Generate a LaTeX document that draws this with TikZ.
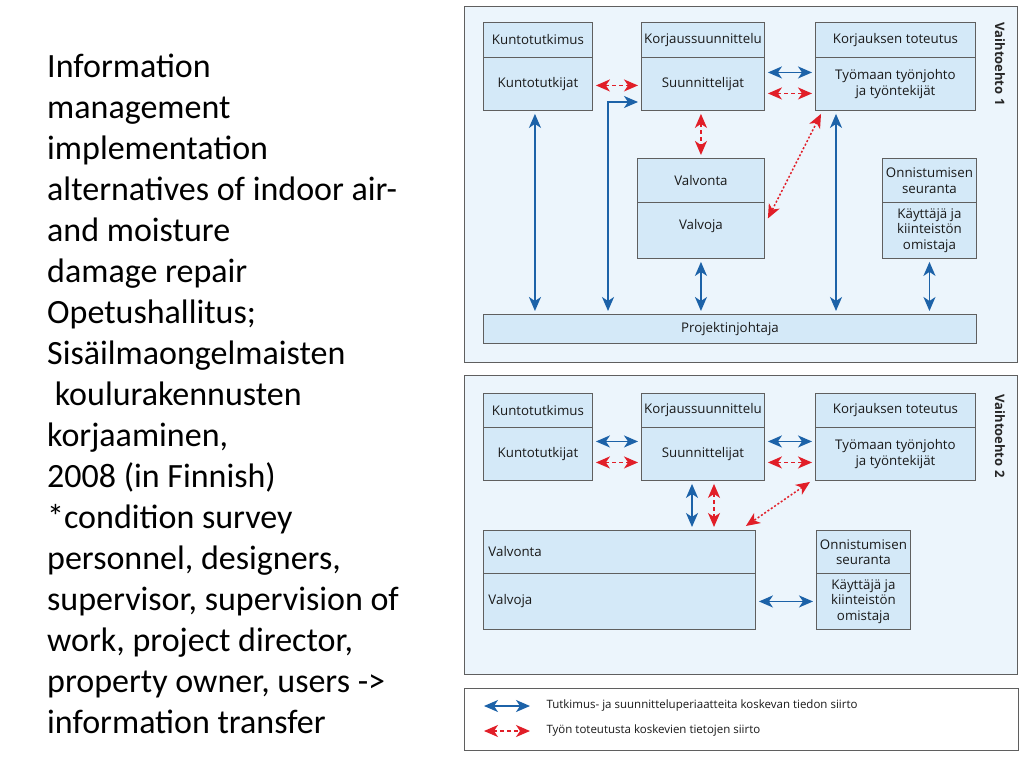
\documentclass[tikz,border=0pt]{standalone}
\usepackage{fontspec}
\setmainfont{Carlito}
\newfontfamily\diafont{Open Sans}
\usetikzlibrary{arrows.meta}
\definecolor{framebg}{RGB}{236,245,252}
\definecolor{boxbg}{RGB}{212,233,248}
\definecolor{bordergray}{RGB}{95,95,95}
\definecolor{arrblue}{RGB}{28,98,168}
\definecolor{arrred}{RGB}{225,30,40}
\tikzset{
  bigtip/.tip={Stealth[length=14pt,width=12pt,inset=4pt]},
  panel/.style={draw=bordergray, line width=0.9pt, fill=framebg},
  boxpart/.style={draw=bordergray, line width=0.9pt, fill=boxbg, anchor=north west, inner sep=0pt, align=center, font=\diafont\fontsize{13.3}{15.5}\selectfont, text=black!90},
  bluearr/.style={draw=arrblue, line width=1.7pt, arrows={bigtip-bigtip}, shorten <=3pt, shorten >=3pt},
  redarr/.style={draw=arrred, line width=1.5pt, dash pattern=on 4pt off 3pt, arrows={bigtip-bigtip}, shorten <=3pt, shorten >=3pt},
  reddot/.style={draw=arrred, line width=1.5pt, dash pattern=on 2pt off 2pt, arrows={bigtip-bigtip}},
  vlabel/.style={rotate=-90, font=\diafont\bfseries\fontsize{13}{15}\selectfont, text=black!85},
  legtext/.style={anchor=west, font=\diafont\fontsize{11.5}{14}\selectfont, text=black!90},
}
\begin{document}
\begin{tikzpicture}[x=1pt,y=-1pt]
\useasboundingbox (0,0) rectangle (1024,768);
\fill[white] (0,0) rectangle (1024,768);

% left text
\node[anchor=north west, align=left, inner sep=0pt, font=\fontsize{34}{41}\selectfont] (lefttext) at (47,54) {Information\\
management\\
implementation\\
alternatives of indoor air-\\
and moisture\\
damage repair\\
Opetushallitus;\\
Sisäilmaongelmaisten\\
\ koulurakennusten\\
korjaaminen,\\
2008 (in Finnish)\\
*condition survey\\
personnel, designers,\\
supervisor, supervision of\\
work, project director,\\
property owner, users ->\\
information transfer};

% ===== panel 1 =====
\draw[panel] (464,6) rectangle (1017,362);
\node[vlabel] (v1) at (1000,64) {Vaihtoehto 1};

\node[boxpart, minimum width=109pt, minimum height=35pt] (kt1h) at (483,22) {Kuntotutkimus};
\node[boxpart, minimum width=109pt, minimum height=53pt] (kt1b) at (483,57) {Kuntotutkijat};
\node[boxpart, minimum width=123pt, minimum height=35pt] (ks1h) at (641,22) {Korjaussuunnittelu};
\node[boxpart, minimum width=123pt, minimum height=53pt] (ks1b) at (641,57) {Suunnittelijat};
\node[boxpart, minimum width=160pt, minimum height=35pt] (kj1h) at (815,22) {Korjauksen toteutus};
\node[boxpart, minimum width=160pt, minimum height=53pt] (kj1b) at (815,57) {Työmaan työnjohto\\ja työntekijät};
\node[boxpart, minimum width=127pt, minimum height=44pt] (va1h) at (637,158) {Valvonta};
\node[boxpart, minimum width=127pt, minimum height=56pt] (va1b) at (637,202) {\raisebox{4pt}[\height][\depth]{Valvoja}};
\node[boxpart, minimum width=94pt, minimum height=44pt] (on1h) at (882,158) {Onnistumisen\\seuranta};
\node[boxpart, minimum width=94pt, minimum height=56pt] (on1b) at (882,202) {Käyttäjä ja\\kiinteistön\\omistaja};
\node[boxpart, minimum width=493pt, minimum height=29pt] (pj1) at (483,314) {Projektinjohtaja};

\draw[redarr] ([yshift=-1.5pt]kt1b.east) -- ([yshift=-1.5pt]ks1b.west);
\coordinate (bend1) at (608,102);
\draw[bluearr] (bend1 |- pj1.north) -- (bend1) -- (ks1b.west |- bend1);
\draw[bluearr] ([xshift=-3pt]kt1b.south) -- ([xshift=-3pt]kt1b.south |- pj1.north);
\draw[bluearr] ([yshift=11.5pt]ks1b.east) -- ([yshift=11.5pt]kj1b.west);
\draw[redarr] ([yshift=-9.5pt]ks1b.east) -- ([yshift=-9.5pt]kj1b.west);
\draw[redarr] (ks1b.south -| va1h.north) -- (va1h.north);
\draw[reddot] ([xshift=6pt,yshift=-3pt]kj1b.south west) -- ([xshift=3pt,yshift=12pt]va1b.east);
\draw[bluearr] ([xshift=21pt]kj1b.south west) -- ([xshift=21pt]kj1b.south west |- pj1.north);
\draw[bluearr] (va1b.south) -- (va1b.south |- pj1.north);
\draw[bluearr] (on1b.south) -- (on1b.south |- pj1.north);

% ===== panel 2 =====
\draw[panel] (464,375) rectangle (1017,674);
\node[vlabel] (v2) at (1000,436) {Vaihtoehto 2};

\node[boxpart, minimum width=109pt, minimum height=34pt] (kt2h) at (483,393) {Kuntotutkimus};
\node[boxpart, minimum width=109pt, minimum height=53pt] (kt2b) at (483,427) {Kuntotutkijat};
\node[boxpart, minimum width=123pt, minimum height=34pt] (ks2h) at (641,393) {Korjaussuunnittelu};
\node[boxpart, minimum width=123pt, minimum height=53pt] (ks2b) at (641,427) {Suunnittelijat};
\node[boxpart, minimum width=160pt, minimum height=34pt] (kj2h) at (815,393) {Korjauksen toteutus};
\node[boxpart, minimum width=160pt, minimum height=53pt] (kj2b) at (815,427) {Työmaan työnjohto\\ja työntekijät};
\node[boxpart, minimum width=272pt, minimum height=43pt, text width=262pt, align=left] (va2h) at (483,530) {Valvonta};
\node[boxpart, minimum width=272pt, minimum height=56pt, text width=262pt, align=left] (va2b) at (483,573) {Valvoja};
\node[boxpart, minimum width=94pt, minimum height=43pt] (on2h) at (816,530) {Onnistumisen\\seuranta};
\node[boxpart, minimum width=94pt, minimum height=56pt] (on2b) at (816,573) {Käyttäjä ja\\kiinteistön\\omistaja};

\draw[bluearr] ([yshift=12.5pt]kt2b.east) -- ([yshift=12.5pt]ks2b.west);
\draw[redarr] ([yshift=-8.5pt]kt2b.east) -- ([yshift=-8.5pt]ks2b.west);
\draw[bluearr] ([yshift=12.5pt]ks2b.east) -- ([yshift=12.5pt]kj2b.west);
\draw[redarr] ([yshift=-8.5pt]ks2b.east) -- ([yshift=-8.5pt]kj2b.west);
\coordinate (v2b) at (692,0);
\coordinate (v2r) at (714,0);
\draw[bluearr] (ks2b.south -| v2b) -- (va2h.north -| v2b);
\draw[redarr] (ks2b.south -| v2r) -- (va2h.north -| v2r);
\draw[reddot] ([xshift=-5pt,yshift=-1pt]kj2b.south west) -- ([xshift=-10pt,yshift=4pt]va2h.north east);
\draw[bluearr] (va2b.east) -- (on2b.west);

% ===== legend =====
\draw[draw=bordergray, line width=0.9pt, fill=white] (464,688) rectangle (1018,750);
\coordinate (lb1) at (484,706);
\coordinate (lb2) at (530,706);
\coordinate (lr1) at (484,731);
\coordinate (lr2) at (530,731);
\draw[bluearr, shorten <=0pt, shorten >=0pt] (lb1) -- (lb2);
\draw[redarr, shorten <=0pt, shorten >=0pt] (lr1) -- (lr2);
\node[legtext] (lt1) at (543,706) {Tutkimus- ja suunnitteluperiaatteita koskevan tiedon siirto};
\node[legtext] (lt2) at (543,731) {Työn toteutusta koskevien tietojen siirto};
\end{tikzpicture}
\end{document}
